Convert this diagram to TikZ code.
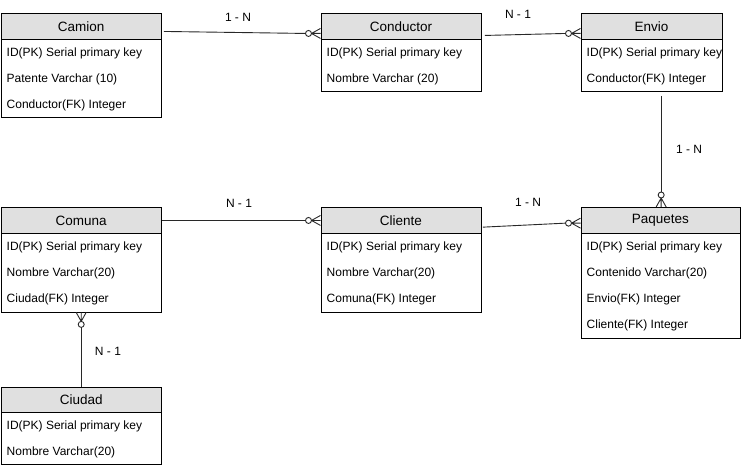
\documentclass[tikz,border=0pt]{standalone}
\usepackage{fontspec}
\setmainfont{Liberation Sans}
\definecolor{hdrgray}{RGB}{224,224,224}
\definecolor{lncol}{RGB}{40,40,40}
\tikzset{
  hdr/.style={draw=black, fill=hdrgray, line width=0.9pt, inner sep=0pt, anchor=north west, font=\fontsize{13.5}{16}\selectfont},
  bodybox/.style={draw=black, fill=white, line width=0.9pt, inner sep=0pt, anchor=north west},
  field/.style={anchor=west, inner sep=0pt, yshift=-1.5pt, font=\fontsize{12}{14}\selectfont},
  lbl/.style={inner sep=0pt, font=\fontsize{12}{14}\selectfont},
  conn/.style={draw=lncol, line width=0.9pt},
  crowfoot/.pic={
    \draw[conn] (-9,0) -- (0,5) (-9,0) -- (0,-5) (-9,0) -- (0,0);
    \draw[conn, fill=white] (-12,0) circle (3pt);
  }
}
\begin{document}
\begin{tikzpicture}[x=1pt, y=-1pt]
\useasboundingbox (0,0) rectangle (741,468);

% Camion
\node[bodybox, minimum width=160.5pt, minimum height=78pt] (camionbody) at (0.5,39) {};
\node[hdr, minimum width=160.5pt, minimum height=26pt] (camion) at (0.5,13) {Camion};
\node[field] (camion1) at (6.5,52) {ID(PK) Serial primary key};
\node[field] (camion2) at (6.5,78) {Patente Varchar (10)};
\node[field] (camion3) at (6.5,104) {Conductor(FK) Integer};

% Conductor
\node[bodybox, minimum width=160pt, minimum height=52pt] (conductorbody) at (320.5,39) {};
\node[hdr, minimum width=160pt, minimum height=26pt] (conductor) at (320.5,13) {Conductor};
\node[field] (conductor1) at (326.5,52) {ID(PK) Serial primary key};
\node[field] (conductor2) at (326.5,78) {Nombre Varchar (20)};

% Envio
\node[bodybox, minimum width=141pt, minimum height=52pt] (enviobody) at (580.5,39) {};
\node[hdr, minimum width=141pt, minimum height=26pt] (envio) at (580.5,13) {Envio};
\node[field] (envio1) at (586.5,52) {ID(PK) Serial primary key};
\node[field] (envio2) at (586.5,78) {Conductor(FK) Integer};

% Comuna
\node[bodybox, minimum width=160.5pt, minimum height=78.5pt] (comunabody) at (0.5,233) {};
\node[hdr, minimum width=160.5pt, minimum height=26pt] (comuna) at (0.5,207) {Comuna};
\node[field] (comuna1) at (6.5,246) {ID(PK) Serial primary key};
\node[field] (comuna2) at (6.5,272) {Nombre Varchar(20)};
\node[field] (comuna3) at (6.5,298) {Ciudad(FK) Integer};

% Cliente
\node[bodybox, minimum width=160pt, minimum height=78.5pt] (clientebody) at (320.5,233) {};
\node[hdr, minimum width=160pt, minimum height=26pt] (cliente) at (320.5,207) {Cliente};
\node[field] (cliente1) at (326.5,246) {ID(PK) Serial primary key};
\node[field] (cliente2) at (326.5,272) {Nombre Varchar(20)};
\node[field] (cliente3) at (326.5,298) {Comuna(FK) Integer};

% Paquetes
\node[bodybox, minimum width=159pt, minimum height=104.5pt] (paquetesbody) at (580.5,233) {};
\node[hdr, minimum width=159pt, minimum height=26pt] (paquetes) at (580.5,207) {Paquetes};
\node[field] (paquetes1) at (586.5,246) {ID(PK) Serial primary key};
\node[field] (paquetes2) at (586.5,272) {Contenido Varchar(20)};
\node[field] (paquetes3) at (586.5,298) {Envio(FK) Integer};
\node[field] (paquetes4) at (586.5,324) {Cliente(FK) Integer};

% Ciudad
\node[bodybox, minimum width=160.5pt, minimum height=52pt] (ciudadbody) at (0.5,412) {};
\node[hdr, minimum width=160.5pt, minimum height=25pt] (ciudad) at (0.5,387) {Ciudad};
\node[field] (ciudad1) at (6.5,425) {ID(PK) Serial primary key};
\node[field] (ciudad2) at (6.5,451) {Nombre Varchar(20)};

% Connectors
\draw[conn] ([xshift=2pt,yshift=-5pt]camion.east) -- ([xshift=-15pt,yshift=-7pt]conductor.west);
\pic at ([yshift=-7pt]conductor.west) {crowfoot};

\draw[conn] ([xshift=3.5pt,yshift=-9pt]conductor.east) -- ([xshift=-15pt,yshift=-7pt]envio.west);
\pic at ([yshift=-7pt]envio.west) {crowfoot};

\draw[conn] ([xshift=9.7pt,yshift=-4pt]enviobody.south) -- ([xshift=0.7pt,yshift=15pt]paquetes.north);
\pic[rotate=-90] at ([xshift=0.7pt]paquetes.north) {crowfoot};

\draw[conn] ([xshift=1.5pt,yshift=-6.7pt]cliente.east) -- ([xshift=-15pt,yshift=-2.7pt]paquetes.west);
\pic at ([yshift=-2.7pt]paquetes.west) {crowfoot};

\draw[conn] ([xshift=0.5pt]comuna.east) -- ([xshift=-15pt]cliente.west);
\pic at (cliente.west) {crowfoot};

\draw[conn] (ciudad.north) -- ([yshift=-15pt]comunabody.south);
\pic[rotate=90] at (comunabody.south) {crowfoot};

% Labels
\node[lbl] (l1) at (238,17) {1 - N};
\node[lbl] (l2) at (518,14) {N - 1};
\node[lbl] (l3) at (689,149) {1 - N};
\node[lbl] (l4) at (528,202) {1 - N};
\node[lbl] (l5) at (239,203) {N - 1};
\node[lbl] (l6) at (108,351) {N - 1};
\end{tikzpicture}
\end{document}
